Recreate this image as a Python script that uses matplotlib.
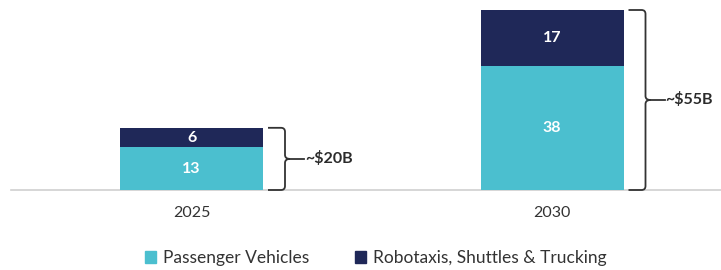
import matplotlib
matplotlib.use("Agg")
import matplotlib.pyplot as plt
from matplotlib.path import Path
from matplotlib.patches import PathPatch, Patch

years = ["2025", "2030"]
passenger = [13, 38]
robotaxi = [6, 17]
totals_label = ["~$20B", "~$55B"]
series_names = ["Passenger Vehicles", "Robotaxis, Shuttles & Trucking"]

teal = "#4BBFCF"
navy = "#1F2858"
txt_dark = "#2B2B2B"

plt.rcParams['font.family'] = ['Lato', 'DejaVu Sans']

W, H = 721, 270
fig = plt.figure(figsize=(W/100, H/100), dpi=100)
ax_bottom_px = 80
ax = fig.add_axes([0, ax_bottom_px/H, 1, (H-ax_bottom_px)/H])

px_per_x = 360.5
px_per_y = 180/55.0
xlim = (-191.5/px_per_x, (W-191.5)/px_per_x)
ax.set_xlim(*xlim)
ax.set_ylim(0, (H-ax_bottom_px)/px_per_y)
ax.axis('off')

pos = [0, 1]
bw = 143/px_per_x
ax.bar(pos, passenger, width=bw, color=teal, zorder=2)
ax.bar(pos, robotaxi, width=bw, bottom=passenger, color=navy, zorder=2)

# baseline
ax.plot([xlim[0] + 11/px_per_x, xlim[1]], [0, 0], color="#D0D0D0", lw=1.2, zorder=1, clip_on=False)

for p, a, b in zip(pos, passenger, robotaxi):
    ax.text(p, a/2, str(a), ha='center', va='center', color='white', fontsize=11.5, fontweight='bold')
    ax.text(p, a + b/2, str(b), ha='center', va='center', color='white', fontsize=11.5, fontweight='bold')

dx = 1/px_per_x
dy = 1/px_per_y
for p, a, b, lab in zip(pos, passenger, robotaxi, totals_label):
    top = a + b
    x0 = p + bw/2 + 5*dx
    xv = x0 + 17*dx
    r = 4
    mid = top/2
    verts = [
        (x0, top), (xv - r*dx, top), (xv, top), (xv, top - r*dy),
        (xv, mid + 4*dy), (xv, mid), (xv + 5*dx, mid),
        (xv, mid), (xv, mid - 4*dy),
        (xv, 0 + r*dy), (xv, 0), (xv - r*dx, 0), (x0, 0),
    ]
    codes = [Path.MOVETO, Path.LINETO, Path.CURVE3, Path.CURVE3,
             Path.LINETO, Path.CURVE3, Path.CURVE3,
             Path.CURVE3, Path.CURVE3,
             Path.LINETO, Path.CURVE3, Path.CURVE3, Path.LINETO]
    ax.add_patch(PathPatch(Path(verts, codes), fill=False, edgecolor="#333333", lw=1.3, clip_on=False))
    ax.plot([xv + 5*dx, xv + 19*dx], [mid, mid], color="#333333", lw=1.3, clip_on=False)
    ax.text(xv + 20*dx, mid, lab, ha='left', va='center', color=txt_dark, fontsize=11.5, fontweight='bold')

for p, y in zip(pos, years):
    ax.text(p, -23*dy, y, ha='center', va='center', color="#333333", fontsize=11.5)

handles = [Patch(color=teal), Patch(color=navy)]
fig.legend(handles, series_names, loc='center', bbox_to_anchor=(0.521, 1 - 258/H),
           ncol=2, frameon=False, fontsize=12.5, handlelength=0.65, handleheight=0.65,
           handletextpad=0.4, columnspacing=2.6, labelcolor="#333333")

fig.savefig("out.png", dpi=100)
